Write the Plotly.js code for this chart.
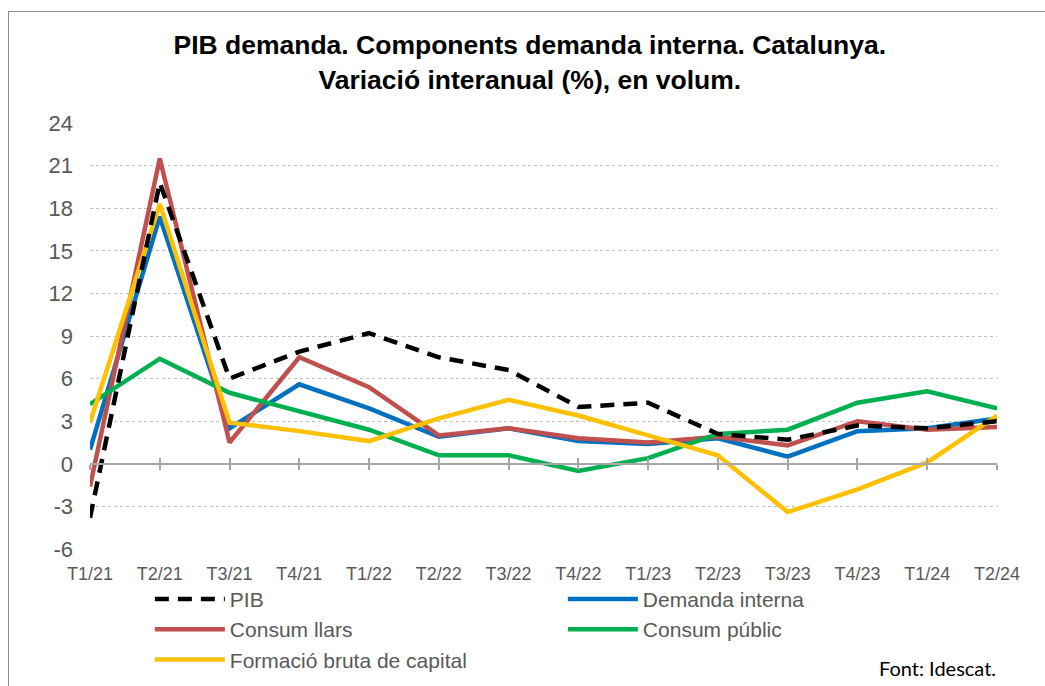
<!DOCTYPE html>
<html>
<head>
<meta charset="utf-8">
<script src="https://cdn.plot.ly/plotly-3.0.1.min.js"></script>
<style>
  body { margin: 0; background: #fff; }
  #chart { width: 1045px; height: 686px; }
  #frame { position: absolute; left: 8px; top: 11px; width: 1100px; height: 700px;
           border-left: 1px solid #8c8c8c; border-top: 1px solid #8c8c8c; pointer-events: none; }
</style>
</head>
<body>
<div id="chart"></div>
<div id="frame"></div>
<script>
const quarters = ["T1/21", "T2/21", "T3/21", "T4/21", "T1/22", "T2/22", "T3/22", "T4/22",
                  "T1/23", "T2/23", "T3/23", "T4/23", "T1/24", "T2/24"];

const pib            = [-3.8, 19.8, 6.0, 7.9, 9.2, 7.5, 6.6, 4.0, 4.3, 2.1, 1.7, 2.7, 2.5, 3.0];
const demandaInterna = [1.0, 17.4, 2.5, 5.6, 3.9, 1.9, 2.5, 1.6, 1.4, 1.8, 0.5, 2.3, 2.5, 3.2];
const consumLlars    = [-1.6, 21.5, 1.5, 7.5, 5.4, 2.0, 2.5, 1.8, 1.5, 1.9, 1.3, 3.0, 2.4, 2.6];
const consumPublic   = [4.2, 7.4, 5.0, 3.7, 2.4, 0.6, 0.6, -0.5, 0.4, 2.1, 2.4, 4.3, 5.1, 3.9];
const formacioBruta  = [2.9, 18.3, 2.9, 2.3, 1.6, 3.2, 4.5, 3.4, 2.0, 0.6, -3.4, -1.8, 0.1, 3.4];

const yTicks = [-6, -3, 0, 3, 6, 9, 12, 15, 18, 21, 24];
const yRange = [-6, 24];

const grey = "#595959";

function series(name, values, color, extra) {
  return Object.assign({
    type: "scatter",
    mode: "lines",
    name: name,
    x: quarters,
    y: values,
    line: { color: color, width: 4.5 },
    hoverinfo: "x+y+name",
  }, extra || {});
}

const traces = [
  series("Demanda interna", demandaInterna, "#0070C0", { legendrank: 2 }),
  series("Consum llars", consumLlars, "#C0504D", { legendrank: 3 }),
  series("Consum públic", consumPublic, "#00B050", { legendrank: 4 }),
  series("Formació bruta de capital", formacioBruta, "#FFC000", { legendrank: 5 }),
  series("PIB", pib, "#000000", { legendrank: 1, line: { color: "#000000", width: 4.5, dash: "14px,9px" } }),
  // empty traces so the axis drawn across the zero value gets rendered
  { type: "scatter", mode: "lines", x: quarters, y: quarters.map(() => null), xaxis: "x2", showlegend: false, hoverinfo: "skip" },
  { type: "scatter", mode: "lines", x: quarters, y: quarters.map(() => null), xaxis: "x3", showlegend: false, hoverinfo: "skip" },
];

const zeroPos = (0 - yRange[0]) / (yRange[1] - yRange[0]);

const zeroAxis = {
  overlaying: "x",
  matches: "x",
  anchor: "free",
  position: zeroPos,
  showline: true,
  linecolor: "#a6a6a6",
  linewidth: 2,
  tickcolor: "#a6a6a6",
  tickwidth: 2,
  ticklen: 5,
  showticklabels: false,
  showgrid: false,
  zeroline: false,
  fixedrange: true,
};

const layout = {
  width: 1045,
  height: 686,
  paper_bgcolor: "#ffffff",
  plot_bgcolor: "#ffffff",
  margin: { l: 90, r: 48, t: 123, b: 137, autoexpand: false },
  font: { family: "Liberation Sans, Arial, sans-serif", color: grey },
  title: {
    text: "<b>PIB demanda. Components demanda interna. Catalunya.<br>Variació interanual (%), en volum.</b>",
    font: { size: 26.5, color: "#000000", family: "Liberation Sans, Arial, sans-serif" },
    xref: "container",
    x: 0.507,
    xanchor: "center",
    yref: "container",
    y: 0.921,
    yanchor: "top",
  },
  xaxis: {
    type: "category",
    range: [0, quarters.length - 1],
    showline: false,
    showgrid: false,
    zeroline: false,
    ticks: "",
    ticklabelstandoff: 12,
    tickfont: { size: 18, color: grey },
    fixedrange: true,
  },
  xaxis2: Object.assign({}, zeroAxis, { ticks: "outside" }),
  xaxis3: Object.assign({}, zeroAxis, { ticks: "inside" }),
  yaxis: {
    range: yRange,
    tickvals: yTicks,
    ticktext: yTicks.map(String),
    showgrid: true,
    gridcolor: "#bfbfbf",
    griddash: "dot",
    gridwidth: 1,
    zeroline: false,
    showline: false,
    ticks: "",
    ticklabelstandoff: 16,
    tickfont: { size: 22, color: grey },
    fixedrange: true,
  },
  showlegend: true,
  legend: {
    orientation: "h",
    x: 0.066,
    xanchor: "left",
    y: -0.07,
    yanchor: "top",
    entrywidth: 328,
    entrywidthmode: "pixels",
    itemwidth: 70,
    font: { size: 21, color: grey },
    bgcolor: "rgba(0,0,0,0)",
  },
  annotations: [
    {
      text: "Font: Idescat.",
      xref: "paper",
      yref: "paper",
      x: 1.001,
      y: -0.279,
      xanchor: "right",
      yanchor: "middle",
      showarrow: false,
      font: { size: 20, color: "#000000", family: "Lato, Open Sans, sans-serif" },
    },
  ],
  hovermode: "closest",
};

Plotly.newPlot("chart", traces, layout, { displayModeBar: false, staticPlot: false });
</script>
</body>
</html>
